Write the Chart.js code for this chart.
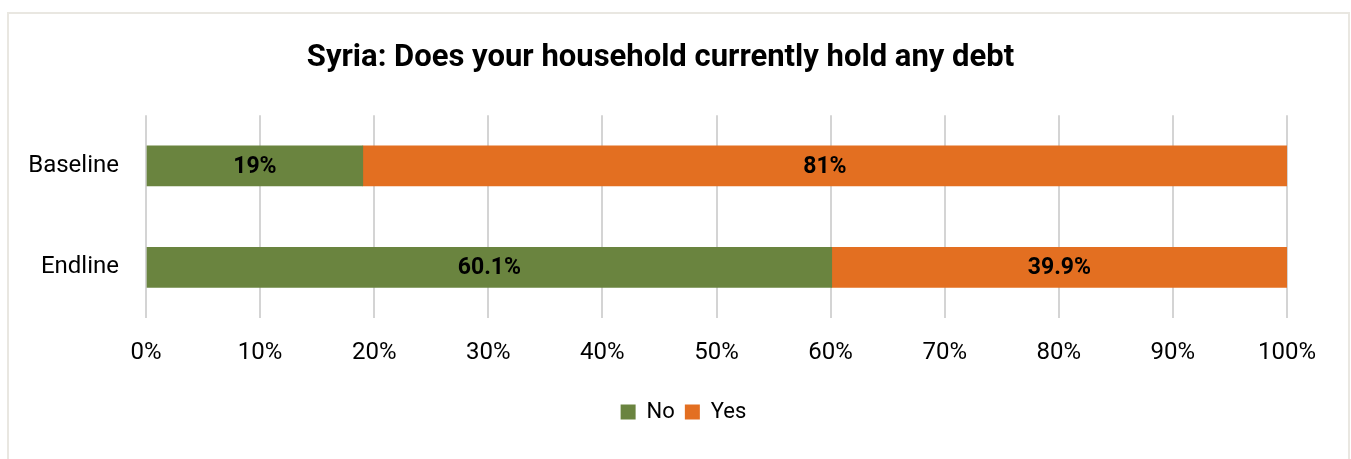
<!DOCTYPE html>
<html>
<head>
<meta charset="utf-8">
<script src="https://cdn.jsdelivr.net/npm/chart.js@4.4.1/dist/chart.umd.min.js"></script>
<style>
  html, body { margin: 0; padding: 0; background: #fff; }
  .frame {
    position: absolute; left: 7px; top: 12px; width: 1343px; height: 460px;
    border: 2px solid #e9e7e1; box-sizing: border-box;
  }
  .chart-box { position: absolute; left: 0; top: 0; width: 1351px; height: 459px; }
</style>
</head>
<body>
<div class="frame"></div>
<div class="chart-box"><canvas id="chart"></canvas></div>
<script>
// chart data
const categories = ['Baseline', 'Endline'];
const noValues = [19, 60.1];
const yesValues = [81, 39.9];
const tickLabels = ['0%', '10%', '20%', '30%', '40%', '50%', '60%', '70%', '80%', '90%', '100%'];

const GREEN = '#6a843f';
const ORANGE = '#e36f21';

// draws the value labels in the middle of each bar segment
const barLabels = {
  id: 'barLabels',
  afterDatasetsDraw(chart) {
    const ctx = chart.ctx;
    ctx.save();
    ctx.font = 'bold 23px Roboto';
    ctx.fillStyle = '#000';
    ctx.textAlign = 'center';
    ctx.textBaseline = 'middle';
    chart.data.datasets.forEach((ds, i) => {
      chart.getDatasetMeta(i).data.forEach((bar, j) => {
        const x = (bar.x + bar.base) / 2;
        ctx.fillText(ds.data[j] + '%', x, bar.y + 1);
      });
    });
    ctx.restore();
  }
};

// title and legend in the original sit further right than the plot centre
const boxShift = {
  id: 'boxShift',
  afterLayout(chart) {
    const lg = chart.legend;
    if (lg) { lg.left += 40; lg.right += 40; }
    const tb = chart.titleBlock;
    if (tb) { tb.left += 17; tb.right += 17; }
  }
};

new Chart(document.getElementById('chart'), {
  type: 'bar',
  data: {
    labels: categories,
    datasets: [
      { label: 'No', data: noValues, backgroundColor: GREEN, barThickness: 40 },
      { label: 'Yes', data: yesValues, backgroundColor: ORANGE, barThickness: 40 }
    ]
  },
  options: {
    indexAxis: 'y',
    responsive: true,
    maintainAspectRatio: false,
    animation: false,
    layout: { padding: { left: 0, right: 64, top: 0, bottom: 26 } },
    plugins: {
      title: {
        display: true,
        text: 'Syria: Does your household currently hold any debt',
        color: '#000',
        font: { family: 'Roboto', size: 31, weight: 'bold' },
        padding: { top: 40, bottom: 38 }
      },
      legend: {
        position: 'bottom',
        labels: {
          color: '#000',
          font: { family: 'Roboto', size: 22 },
          boxWidth: 15,
          boxHeight: 15,
          padding: 10
        }
      },
      tooltip: { enabled: false }
    },
    scales: {
      x: {
        stacked: true,
        min: 0,
        max: 100,
        ticks: {
          stepSize: 10,
          color: '#000',
          font: { family: 'Roboto', size: 24 },
          padding: 21,
          callback: (v, i) => tickLabels[i]
        },
        grid: { color: '#d4d4d4', lineWidth: 2, drawTicks: false },
        border: { display: false },
        afterFit: (scale) => { scale.height = 73; }
      },
      y: {
        stacked: true,
        ticks: {
          color: '#000',
          font: { family: 'Roboto', size: 24 },
          padding: 27
        },
        grid: { display: false, drawTicks: false },
        border: { display: false },
        afterFit: (scale) => { scale.width = 146; }
      }
    }
  },
  plugins: [barLabels, boxShift]
});
</script>
</body>
</html>
